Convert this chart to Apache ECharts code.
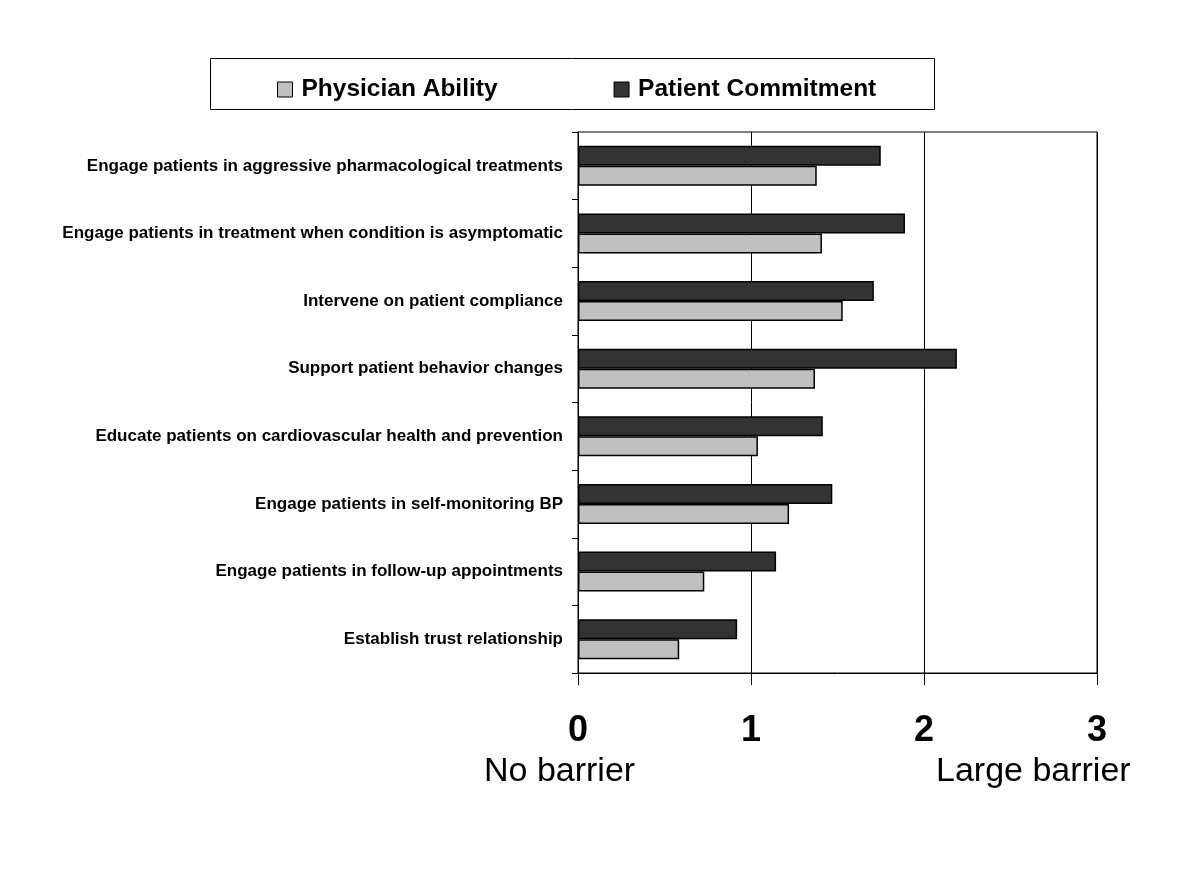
<!DOCTYPE html>
<html>
<head>
<meta charset="utf-8">
<script src="https://cdn.jsdelivr.net/npm/echarts@6/dist/echarts.min.js"></script>
<style>html,body{margin:0;padding:0;background:#fff;}#c{width:1200px;height:873px;}</style>
</head>
<body>
<div id="c"></div>
<script>
const categories = [
  "Engage patients in aggressive pharmacological treatments",
  "Engage patients in treatment when condition is asymptomatic",
  "Intervene on patient compliance",
  "Support patient behavior changes",
  "Educate patients on cardiovascular health and prevention",
  "Engage patients in self-monitoring BP",
  "Engage patients in follow-up appointments",
  "Establish trust relationship"
];
const physicianAbility = [1.38, 1.41, 1.53, 1.37, 1.04, 1.22, 0.73, 0.585];
const patientCommitment = [1.75, 1.89, 1.71, 2.19, 1.415, 1.47, 1.145, 0.92];
const xTicks = [0, 1, 2, 3];

const chart = echarts.init(document.getElementById('c'), null, {renderer: 'canvas'});
const lab = 'Liberation Sans';
chart.setOption({
  animation: false,
  backgroundColor: '#ffffff',
  grid: {left: 578, right: 103, top: 132, bottom: 200, show: true, borderColor: '#000', borderWidth: 1, backgroundColor: 'transparent'},
  legend: {
    left: 272, top: 72, itemWidth: 15, itemHeight: 15, itemGap: 116, icon: 'rect',
    data: ['Physician Ability', 'Patient Commitment'],
    itemStyle: {borderColor: '#000', borderWidth: 1},
    textStyle: {fontFamily: lab, fontWeight: 'bold', fontSize: 24.5, color: '#000', padding: [0, 0, 0, 4]}
  },
  graphic: [
    {type: 'rect', shape: {x: 210.5, y: 58.5, width: 724, height: 51}, style: {fill: 'none', stroke: '#000', lineWidth: 1}, silent: true},
    {type: 'text', left: 484, top: 755, style: {text: 'No barrier', font: '34px "Liberation Sans"', fill: '#000'}},
    {type: 'text', left: 936, top: 755, style: {text: 'Large barrier', font: '34px "Liberation Sans"', fill: '#000'}}
  ],
  xAxis: {
    type: 'value', min: 0, max: 3, interval: 1,
    axisLine: {show: true, lineStyle: {color: '#000', width: 1}},
    axisTick: {show: true, length: 12, lineStyle: {color: '#000'}},
    splitLine: {show: true, lineStyle: {color: '#000', width: 1}},
    axisLabel: {margin: 40, fontFamily: 'Liberation Sans', fontWeight: 'bold', fontSize: 36, color: '#000',
      formatter: v => xTicks.includes(v) ? String(v) : ''}
  },
  yAxis: {
    type: 'category', data: categories, inverse: true,
    axisLine: {show: true, lineStyle: {color: '#000', width: 1}},
    axisTick: {show: true, length: 6, lineStyle: {color: '#000'}},
    axisLabel: {margin: 15, fontFamily: lab, fontWeight: 'bold', fontSize: 17, color: '#000'}
  },
  series: [
    {name: 'Patient Commitment', type: 'bar', data: patientCommitment, barWidth: 20, barGap: '0%',
      itemStyle: {color: '#333333', borderColor: '#000', borderWidth: 1.5}},
    {name: 'Physician Ability', type: 'bar', data: physicianAbility, barWidth: 20, barGap: '0%',
      itemStyle: {color: '#c0c0c0', borderColor: '#000', borderWidth: 1.5}}
  ]
});
</script>
</body>
</html>
